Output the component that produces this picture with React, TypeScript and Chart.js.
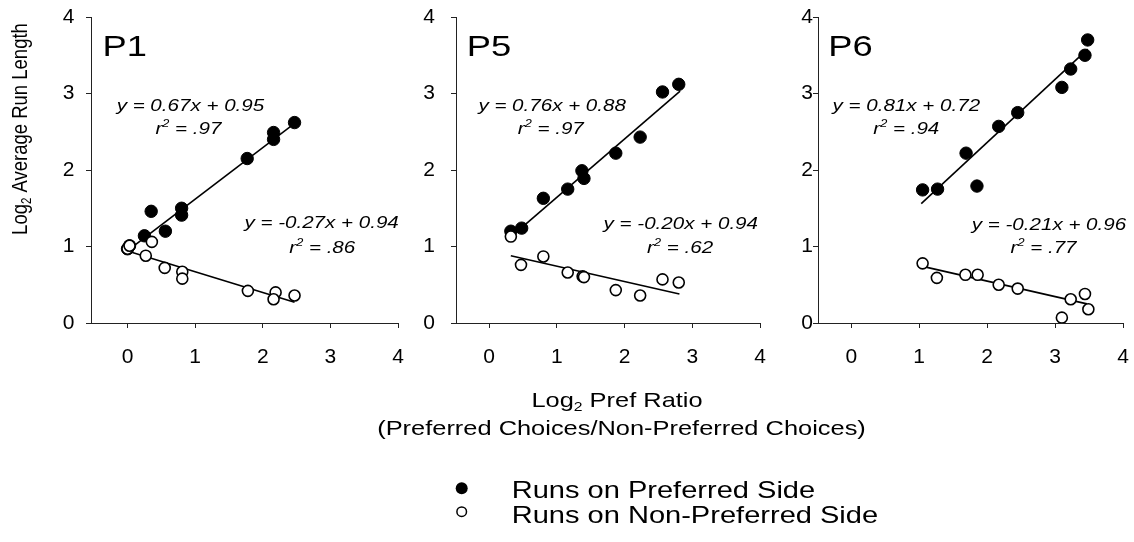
import { useEffect, useRef } from 'react';
import { Chart, registerables } from 'chart.js';

Chart.register(...registerables);

const FONT = '"Liberation Sans", Arial, Helvetica, sans-serif';
const TEXT_STRETCH = 1.21;
const W = 1134;
const H = 542;

// ---------- data ----------
const xTicks = [0, 1, 2, 3, 4];
const yTicks = [0, 1, 2, 3, 4];

// P1
const p1PrefX = [0.0, 0.03, 0.25, 0.35, 0.56, 0.8, 0.8, 1.77, 2.16, 2.16, 2.47];
const p1PrefY = [0.97, 1.01, 1.14, 1.46, 1.2, 1.5, 1.41, 2.15, 2.49, 2.4, 2.62];
const p1NonX = [0.0, 0.03, 0.27, 0.36, 0.55, 0.81, 0.81, 1.78, 2.19, 2.16, 2.47];
const p1NonY = [0.97, 1.01, 0.88, 1.06, 0.72, 0.67, 0.58, 0.42, 0.4, 0.31, 0.36];
const p1PrefFitX = [0.05, 2.5];
const p1PrefFitY = [0.98, 2.63];
const p1NonFitX = [0.0, 2.47];
const p1NonFitY = [0.94, 0.27];

// P5
const p5PrefX = [0.32, 0.48, 0.8, 1.16, 1.37, 1.4, 1.87, 2.23, 2.56, 2.8];
const p5PrefY = [1.2, 1.24, 1.63, 1.75, 1.99, 1.89, 2.22, 2.43, 3.02, 3.12];
const p5NonX = [0.32, 0.47, 0.8, 1.16, 1.38, 1.4, 1.87, 2.23, 2.56, 2.8];
const p5NonY = [1.13, 0.76, 0.87, 0.66, 0.61, 0.6, 0.43, 0.36, 0.57, 0.53];
const p5PrefFitX = [0.3, 2.82];
const p5PrefFitY = [1.11, 3.03];
const p5NonFitX = [0.32, 2.81];
const p5NonFitY = [0.88, 0.38];

// P6
const p6PrefX = [1.05, 1.27, 1.69, 1.85, 2.17, 2.45, 3.1, 3.23, 3.44, 3.48];
const p6PrefY = [1.74, 1.75, 2.22, 1.79, 2.57, 2.75, 3.08, 3.32, 3.5, 3.7];
const p6NonX = [1.05, 1.26, 1.68, 1.86, 2.17, 2.45, 3.1, 3.23, 3.44, 3.49];
const p6NonY = [0.78, 0.59, 0.63, 0.63, 0.5, 0.45, 0.07, 0.31, 0.38, 0.18];
const p6PrefFitX = [1.03, 3.48];
const p6PrefFitY = [1.56, 3.58];
const p6NonFitX = [1.05, 3.47];
const p6NonFitY = [0.74, 0.25];

const panelNames = ['P1', 'P5', 'P6'];
const eqPref = ['y = 0.67x + 0.95', 'y = 0.76x + 0.88', 'y = 0.81x + 0.72'];
const r2Pref = ['.97', '.97', '.94'];
const eqNon = ['y = -0.27x + 0.94', 'y = -0.20x + 0.94', 'y = -0.21x + 0.96'];
const r2Non = ['.86', '.62', '.77'];

const xTitle = 'Log';
const xTitleSub = '2';
const xTitleRest = ' Pref Ratio';
const xSubtitle = '(Preferred Choices/Non-Preferred Choices)';
const yTitle = 'Log';
const yTitleSub = '2';
const yTitleRest = ' Average Run Length';
const legendPref = 'Runs on Preferred Side';
const legendNon = 'Runs on Non-Preferred Side';

// ---------- layout (positions, not data) ----------
const layouts = [
  { left: 91, right: 398, xMin: -0.54, yTickPad: 11.5, label: -0.37, eqP: [0.93, 2.856], r2P: [0.9, 2.55], eqN: [2.87, 1.32], r2N: [2.88, 1.0] },
  { left: 456, right: 760, xMin: -0.49, yTickPad: 16, label: -0.33, eqP: [0.93, 2.856], r2P: [0.91, 2.55], eqN: [2.83, 1.31], r2N: [2.82, 0.995] },
  { left: 818, right: 1123, xMin: -0.49, yTickPad: 0, label: -0.34, eqP: [0.81, 2.856], r2P: [0.81, 2.55], eqN: [2.91, 1.3], r2N: [2.83, 0.995] },
];
const AREA_TOP = 17;
const AREA_BOTTOM = 323;
const YW = 60;
const XH = 60;

const panelData = [
  { prefX: p1PrefX, prefY: p1PrefY, nonX: p1NonX, nonY: p1NonY, pfX: p1PrefFitX, pfY: p1PrefFitY, nfX: p1NonFitX, nfY: p1NonFitY },
  { prefX: p5PrefX, prefY: p5PrefY, nonX: p5NonX, nonY: p5NonY, pfX: p5PrefFitX, pfY: p5PrefFitY, nfX: p5NonFitX, nfY: p5NonFitY },
  { prefX: p6PrefX, prefY: p6PrefY, nonX: p6NonX, nonY: p6NonY, pfX: p6PrefFitX, pfY: p6PrefFitY, nfX: p6NonFitX, nfY: p6NonFitY },
];

const pts = (xs: number[], ys: number[]) => xs.map((x, i) => ({ x, y: ys[i] }));

type Seg = { t: string; sub?: boolean; sup?: boolean };
const fontFor = (size: number, italic: boolean) => `${italic ? 'italic ' : ''}${size}px ${FONT}`;

function drawRich(
  ctx: CanvasRenderingContext2D,
  segs: Seg[],
  x: number,
  y: number,
  size: number,
  italic = false,
  align: 'left' | 'center' = 'center',
  rotate = false
) {
  ctx.save();
  const small = size * 0.62;
  const widths = segs.map((s) => {
    ctx.font = fontFor(s.sub || s.sup ? small : size, italic);
    return ctx.measureText(s.t).width;
  });
  const total = widths.reduce((a, b) => a + b, 0);
  ctx.translate(x, y);
  ctx.scale(TEXT_STRETCH, 1);
  if (rotate) ctx.rotate(-Math.PI / 2);
  ctx.fillStyle = '#000';
  ctx.textBaseline = 'alphabetic';
  ctx.textAlign = 'left';
  let cx = align === 'center' ? -total / 2 : 0;
  const base = 0.358 * size;
  segs.forEach((s, i) => {
    ctx.font = fontFor(s.sub || s.sup ? small : size, italic);
    const dy = s.sub ? 0.2 * size : s.sup ? -0.4 * size : 0;
    ctx.fillText(s.t, cx, base + dy);
    cx += widths[i];
  });
  ctx.restore();
}

function makeConfig(idx: number): any {
  const L = layouts[idx];
  const D = panelData[idx];
  const overlay = {
    id: 'overlay' + idx,
    afterDraw(chart: any) {
      const ctx: CanvasRenderingContext2D = chart.ctx;
      const sx = chart.scales.x;
      const sy = chart.scales.y;
      const px = (v: number) => sx.getPixelForValue(v);
      const py = (v: number) => sy.getPixelForValue(v);
      drawRich(ctx, [{ t: panelNames[idx] }], px(L.label), py(3.63), 30, false, 'left');
      drawRich(ctx, [{ t: eqPref[idx] }], px(L.eqP[0]), py(L.eqP[1]), 17, true);
      drawRich(ctx, [{ t: 'r' }, { t: '2', sup: true }, { t: ' = ' + r2Pref[idx] }], px(L.r2P[0]), py(L.r2P[1]), 17, true);
      drawRich(ctx, [{ t: eqNon[idx] }], px(L.eqN[0]), py(L.eqN[1]), 17, true);
      drawRich(ctx, [{ t: 'r' }, { t: '2', sup: true }, { t: ' = ' + r2Non[idx] }], px(L.r2N[0]), py(L.r2N[1]), 17, true);

      if (idx === 0) {
        drawRich(ctx, [{ t: yTitle }, { t: yTitleSub, sub: true }, { t: yTitleRest }], 18.7, 129, 18.5, false, 'center', true);
      }
      if (idx === 1) {
        drawRich(ctx, [{ t: xTitle }, { t: xTitleSub, sub: true }, { t: xTitleRest }], 617, 399.2, 21);
        drawRich(ctx, [{ t: xSubtitle }], 621.5, 427.5, 21);
        // legend
        ctx.save();
        ctx.fillStyle = '#000';
        ctx.beginPath();
        ctx.arc(461.7, 488.3, 6, 0, Math.PI * 2);
        ctx.fill();
        ctx.beginPath();
        ctx.arc(461.7, 511.7, 4.8, 0, Math.PI * 2);
        ctx.fillStyle = '#fff';
        ctx.fill();
        ctx.lineWidth = 1.5;
        ctx.strokeStyle = '#000';
        ctx.stroke();
        ctx.restore();
        drawRich(ctx, [{ t: legendPref }], 511.7, 489.7, 24, false, 'left');
        drawRich(ctx, [{ t: legendNon }], 511.7, 514.7, 24, false, 'left');
      }
    },
  };

  return {
    type: 'scatter',
    data: {
      datasets: [
        {
          label: 'non',
          data: pts(D.nonX, D.nonY),
          showLine: false,
          pointRadius: 5.5,
          pointBorderWidth: 1.6,
          pointBackgroundColor: '#fff',
          pointBorderColor: '#000',
        },
        {
          label: 'pref',
          data: pts(D.prefX, D.prefY),
          showLine: false,
          pointRadius: 6.2,
          pointBorderWidth: 1,
          pointBackgroundColor: '#000',
          pointBorderColor: '#000',
        },
        {
          label: 'nonFit',
          data: pts(D.nfX, D.nfY),
          showLine: true,
          pointRadius: 0,
          borderColor: '#000',
          borderWidth: 1.6,
        },
        {
          label: 'prefFit',
          data: pts(D.pfX, D.pfY),
          showLine: true,
          pointRadius: 0,
          borderColor: '#000',
          borderWidth: 1.6,
        },
      ],
    },
    options: {
      animation: false,
      responsive: false,
      maintainAspectRatio: false,
      devicePixelRatio: 1,
      events: [],
      layout: {
        padding: {
          left: L.left - YW,
          right: W - L.right,
          top: AREA_TOP,
          bottom: H - AREA_BOTTOM - XH,
        },
      },
      plugins: { legend: { display: false }, tooltip: { enabled: false }, title: { display: false } },
      scales: {
        x: {
          type: 'linear',
          min: L.xMin,
          max: 4,
          grid: { display: true, drawOnChartArea: false, drawTicks: true, tickLength: 5, color: '#222', lineWidth: 1 },
          border: { display: true, color: '#222', width: 1 },
          ticks: { font: { family: FONT, size: 21 }, color: '#000', padding: 17, maxRotation: 0 },
          afterBuildTicks: (s: any) => {
            s.ticks = xTicks.map((v) => ({ value: v }));
          },
          afterFit: (s: any) => {
            s.height = XH;
            s.paddingLeft = 0;
            s.paddingRight = 0;
            s.paddingTop = 0;
            s.paddingBottom = 0;
          },
        },
        y: {
          type: 'linear',
          min: 0,
          max: 4,
          grid: { display: true, drawOnChartArea: false, drawTicks: true, tickLength: 5, color: '#222', lineWidth: 1 },
          border: { display: true, color: '#222', width: 1 },
          ticks: { font: { family: FONT, size: 21 }, color: '#000', padding: L.yTickPad },
          afterBuildTicks: (s: any) => {
            s.ticks = yTicks.map((v) => ({ value: v }));
          },
          afterFit: (s: any) => {
            s.width = YW;
            s.paddingLeft = 0;
            s.paddingRight = 0;
            s.paddingTop = 0;
            s.paddingBottom = 0;
          },
        },
      },
    },
    plugins: [overlay],
  };
}

function Panel({ idx }: { idx: number }) {
  const ref = useRef<HTMLCanvasElement>(null);
  useEffect(() => {
    if (!ref.current) return;
    const chart = new Chart(ref.current, makeConfig(idx));
    return () => chart.destroy();
  }, [idx]);
  return (
    <canvas
      ref={ref}
      width={W}
      height={H}
      style={{ position: 'absolute', left: 0, top: 0, width: W, height: H }}
    />
  );
}

export default function App() {
  return (
    <div style={{ position: 'absolute', left: 0, top: 0, width: W, height: H, background: '#fff', overflow: 'hidden' }}>
      {[0, 1, 2].map((i) => (
        <Panel key={i} idx={i} />
      ))}
    </div>
  );
}
